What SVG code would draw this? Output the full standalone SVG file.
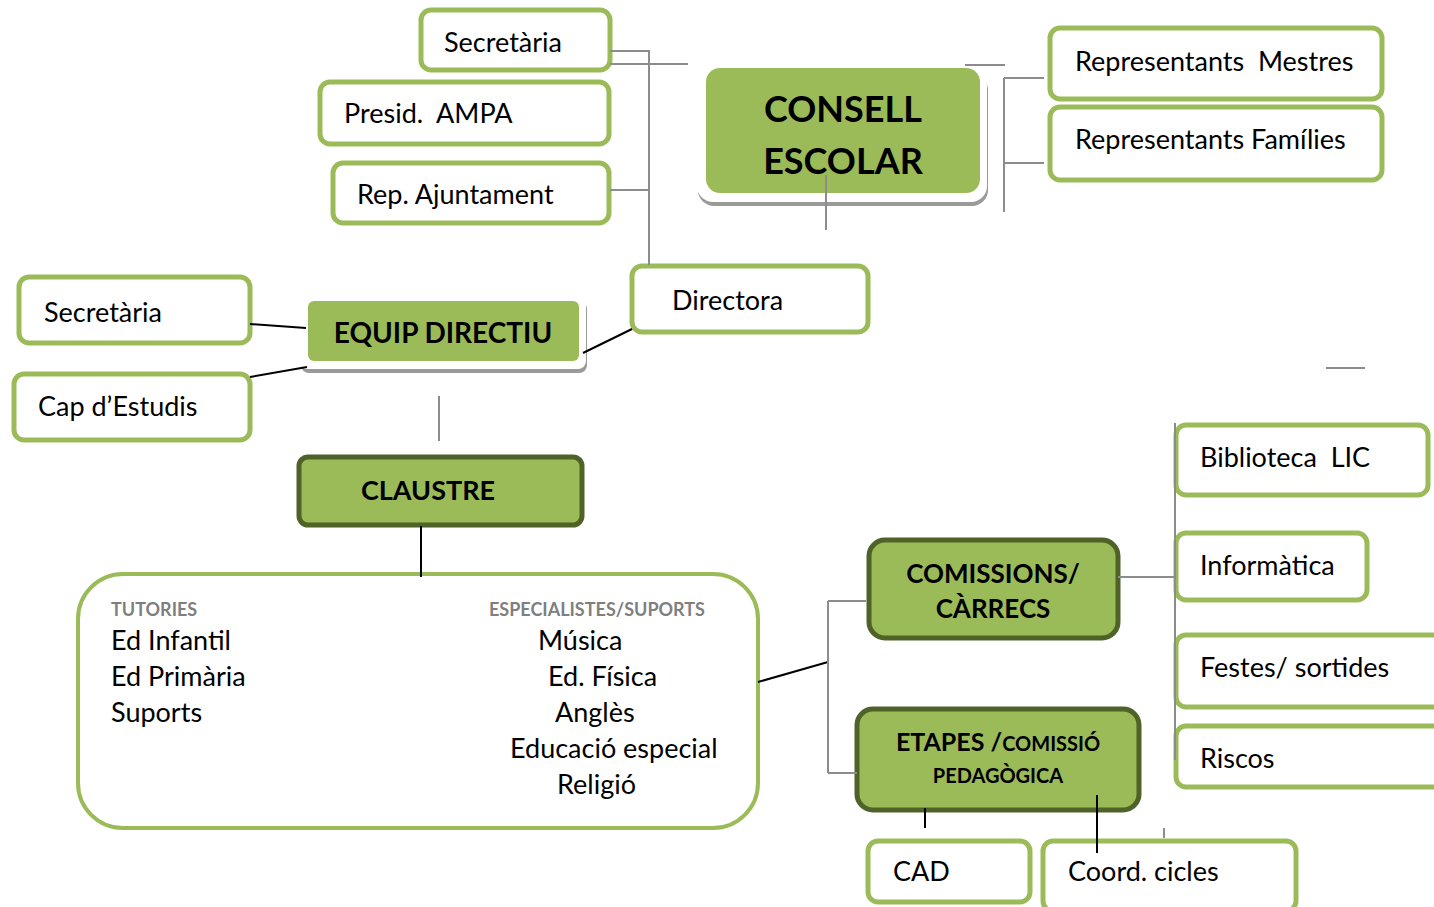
<svg xmlns="http://www.w3.org/2000/svg" width="1434" height="907" viewBox="0 0 1434 907">
<defs>
<style>
text{white-space:pre}
.t{font-family:Lato,"Open Sans","Liberation Sans",sans-serif;font-size:27px;fill:#000}
.b{font-family:Lato,"Open Sans","Liberation Sans",sans-serif;font-weight:bold;fill:#000}
.h{font-family:Lato,"Open Sans","Liberation Sans",sans-serif;font-weight:bold;font-size:18px;fill:#7f7f7f}
.box{fill:#fff;stroke:#9bbb59;stroke-width:5}
.gbox{fill:#9bbb59;stroke:#4f6228;stroke-width:5}
.fl{fill:#9bbb59}
.gl{stroke:#8c8c8c;stroke-width:2;fill:none}
.bl{stroke:#000;stroke-width:2;fill:none}
</style>
</defs>
<rect width="1434" height="907" fill="#fff"/>
<g id="secretaria-top"><rect class="box" x="421" y="10" width="189" height="60" rx="10"/><text class="t" x="444" y="52">Secretària</text></g>
<g id="presid-ampa"><rect class="box" x="320" y="82" width="289" height="62" rx="10"/><text class="t" x="344" y="123" xml:space="preserve">Presid.  AMPA</text></g>
<g id="rep-ajuntament"><rect class="box" x="333" y="163" width="276" height="60" rx="10"/><text class="t" x="357" y="204">Rep. Ajuntament</text></g>
<g id="consell-escolar">
<rect x="698" y="74" width="290" height="132" rx="16" fill="#9a9a9a"/>
<rect x="697" y="70" width="290" height="132" rx="16" fill="#fff"/>
<rect class="fl" x="706" y="68" width="274" height="125" rx="14"/>
<text class="b" x="843" y="122" font-size="36" text-anchor="middle">CONSELL</text>
<text class="b" x="843" y="174" font-size="36" text-anchor="middle">ESCOLAR</text>
</g>
<g id="rep-mestres"><rect class="box" x="1050" y="28" width="332" height="71" rx="10"/><text class="t" x="1075" y="71" xml:space="preserve">Representants  Mestres</text></g>
<g id="rep-families"><rect class="box" x="1050" y="107" width="332" height="73" rx="10"/><text class="t" x="1075" y="149">Representants Famílies</text></g>
<g id="directora"><rect class="box" x="632" y="266" width="236" height="66" rx="10"/><text class="t" x="672" y="310">Directora</text></g>
<g id="equip-directiu">
<rect x="301" y="301" width="286" height="72" rx="8" fill="#9a9a9a"/>
<rect x="299" y="296" width="287" height="73" rx="8" fill="#fff"/>
<rect class="fl" x="308" y="301" width="271" height="60" rx="6"/>
<text class="b" x="443" y="343" font-size="28" text-anchor="middle">EQUIP DIRECTIU</text>
</g>
<g id="secretaria-left"><rect class="box" x="19" y="277" width="231" height="66" rx="10"/><text class="t" x="44" y="322">Secretària</text></g>
<g id="cap-estudis"><rect class="box" x="14" y="374" width="236" height="66" rx="10"/><text class="t" x="38" y="416">Cap d’Estudis</text></g>
<g id="claustre"><rect class="gbox" x="299" y="457" width="283" height="68" rx="9"/><text class="b" x="428" y="500" font-size="27" text-anchor="middle">CLAUSTRE</text></g>
<g id="claustre-detail">
<rect x="78" y="574" width="680" height="254" rx="45" fill="#fff" stroke="#9bbb59" stroke-width="4"/>
<text class="h" x="111" y="616">TUTORIES</text>
<text class="t" x="111" y="650">Ed Infantil</text>
<text class="t" x="111" y="686">Ed Primària</text>
<text class="t" x="111" y="722">Suports</text>
<text class="h" x="489" y="616">ESPECIALISTES/SUPORTS</text>
<text class="t" x="538" y="650">Música</text>
<text class="t" x="548" y="686">Ed. Física</text>
<text class="t" x="555" y="722">Anglès</text>
<text class="t" x="510" y="758">Educació especial</text>
<text class="t" x="557" y="794">Religió</text>
</g>
<g id="comissions"><rect class="gbox" x="869" y="540" width="249" height="98" rx="16"/>
<text class="b" x="993" y="583" font-size="26" text-anchor="middle">COMISSIONS/</text>
<text class="b" x="993" y="618" font-size="26" text-anchor="middle">CÀRRECS</text></g>
<g id="biblioteca"><rect class="box" x="1176" y="425" width="252" height="70" rx="10"/><text class="t" x="1200" y="467" xml:space="preserve">Biblioteca  LIC</text></g>
<g id="informatica"><rect class="box" x="1176" y="533" width="191" height="67" rx="10"/><text class="t" x="1200" y="575">Informàtica</text></g>
<g id="festes"><rect class="box" x="1176" y="635" width="280" height="72" rx="10"/><text class="t" x="1200" y="677">Festes/ sortides</text></g>
<g id="riscos"><rect class="box" x="1176" y="726" width="280" height="61" rx="10"/><text class="t" x="1200" y="768">Riscos</text></g>
<g id="etapes"><rect class="gbox" x="857" y="709" width="282" height="101" rx="16"/>
<text class="b" x="998" y="751" text-anchor="middle"><tspan font-size="25">ETAPES /</tspan><tspan font-size="20">COMISSIÓ</tspan></text>
<text class="b" x="998" y="783" font-size="20" text-anchor="middle">PEDAGÒGICA</text></g>
<g id="cad"><rect class="box" x="868" y="841" width="162" height="61" rx="10"/><text class="t" x="893" y="881">CAD</text></g>
<g id="coord-cicles"><rect class="box" x="1043" y="841" width="253" height="70" rx="10"/><text class="t" x="1068" y="881">Coord. cicles</text></g>
<g id="connectors">
<path class="gl" d="M610 51H649V265M610 64H688M610 190H649"/>
<path class="gl" d="M965 65H1005M1004 78V212M1004 78H1044M1004 163H1044"/>
<path class="gl" d="M826 175V230"/>
<path class="bl" d="M632 329L583 353M250 324L306 328M250 377L307 367"/>
<path class="gl" d="M439 396V441"/>
<path class="bl" d="M421 526V577"/>
<path class="bl" d="M758 682L828 662"/>
<path class="gl" d="M828 601V773M828 601H866M828 773H857"/>
<path class="gl" d="M1118 577H1175M1175 423V760M1326 368H1365"/>
<path class="bl" d="M925 808V828M1097 795V853"/>
<path class="gl" d="M1164 828V838"/>
</g>
</svg>
